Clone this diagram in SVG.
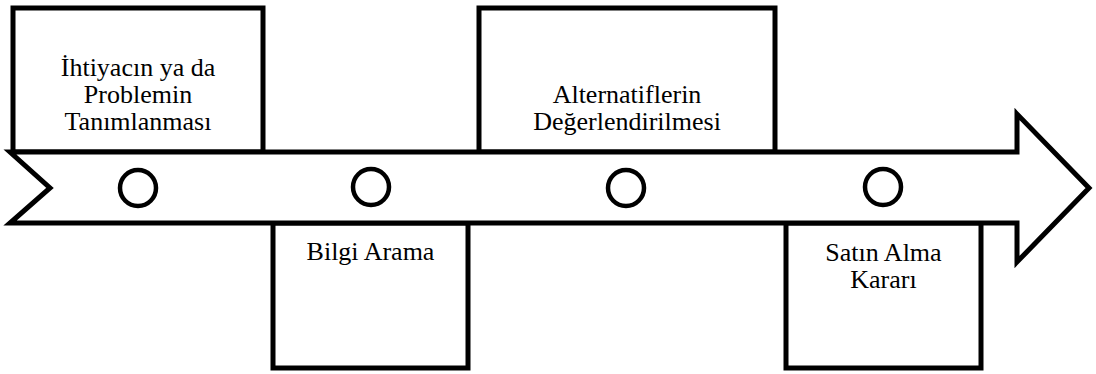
<svg xmlns="http://www.w3.org/2000/svg" width="1096" height="374" viewBox="0 0 1096 374">
<style>
.box{fill:#fff;stroke:#000;stroke-width:5}
.arrow{fill:#fff;stroke:#000;stroke-width:5;stroke-linejoin:miter}
.dot{fill:none;stroke:#000;stroke-width:4.5}
</style>
<rect width="1096" height="374" fill="#fff"/>
<g font-family="Liberation Serif, Times New Roman, serif" font-size="26" text-anchor="middle" fill="#000">
<g id="node-1"><rect class="box" x="13" y="8" width="250" height="144"/>
<text x="138" y="76">İhtiyacın ya da</text>
<text x="138" y="103">Problemin</text>
<text x="138" y="130">Tanımlanması</text></g>
<g id="node-3"><rect class="box" x="479" y="8" width="296" height="144"/>
<text x="627" y="103">Alternatiflerin</text>
<text x="627" y="130">Değerlendirilmesi</text></g>
<g id="node-2"><rect class="box" x="273" y="223" width="195" height="145"/>
<text x="370.5" y="260">Bilgi Arama</text></g>
<g id="node-4"><rect class="box" x="786" y="223" width="195" height="145"/>
<text x="883.5" y="261">Satın Alma</text>
<text x="883.5" y="288">Kararı</text></g>
</g>
<g id="connectors">
<path class="arrow" d="M10,152 L1017,152 L1017,114 L1089,188 L1017,262 L1017,223 L10,223 L50,188 Z"/>
<circle class="dot" cx="138" cy="188" r="18"/>
<circle class="dot" cx="371" cy="187" r="18"/>
<circle class="dot" cx="626" cy="188" r="18"/>
<circle class="dot" cx="883" cy="187" r="18"/>
</g>
</svg>
